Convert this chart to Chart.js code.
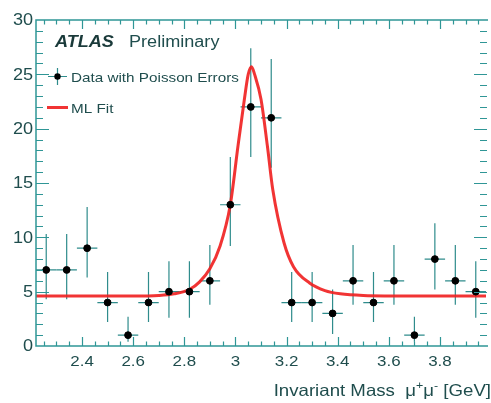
<!DOCTYPE html>
<html>
<head>
<meta charset="utf-8">
<script src="https://cdn.jsdelivr.net/npm/chart.js@4"></script>
<style>
  html, body { margin: 0; padding: 0; background: #ffffff; }
  #massChart { display: block; }
</style>
</head>
<body>
<canvas id="massChart" width="491" height="403"></canvas>
<script>
const mass = [2.26, 2.34, 2.42, 2.5, 2.58, 2.66, 2.74, 2.82, 2.9, 2.98, 3.06,
  3.14, 3.22, 3.3, 3.38, 3.46, 3.54, 3.62, 3.7, 3.78, 3.86, 3.94];
const counts = [7, 7, 9, 4, 1, 4, 5, 5, 6, 13, 22, 21, 4, 4, 3, 6, 4, 6, 1, 8, 6, 5];
const errUpper = [10.3, 10.3, 12.8, 6.8, 2.7, 6.8, 7.8, 7.8, 9.3, 17.4, 27.4,
  26.4, 6.8, 6.8, 5.2, 9.3, 6.8, 9.3, 2.7, 11.3, 9.3, 7.8];
const errLower = [4.3, 4.3, 6.3, 2.2, 0.4, 2.2, 2.6, 2.6, 3.8, 9.2, 17.4,
  16.4, 2.2, 2.2, 1.1, 3.8, 2.2, 3.8, 0.4, 5.2, 3.8, 2.6];
const binHalfWidth = 0.04;

const fitMass = [2.22, 2.4, 2.6, 2.7, 2.76, 2.82, 2.86, 2.9, 2.94, 2.98, 3.01,
  3.035, 3.05, 3.063, 3.075, 3.1, 3.125, 3.146, 3.19, 3.227, 3.29, 3.35, 3.41,
  3.5, 3.7, 3.98];
const fitValue = [4.6, 4.6, 4.6, 4.65, 4.8, 5.2, 5.9, 7.1, 9.2, 13.0, 18.4,
  22.7, 25.0, 25.7, 25.0, 22.7, 18.4, 14.4, 9.5, 7.3, 5.8, 5.1, 4.8,
  4.65, 4.6, 4.6];

const xTicks = [2.4, 2.6, 2.8, 3, 3.2, 3.4, 3.6, 3.8];
const xTickLabels = ["2.4", "2.6", "2.8", "3", "3.2", "3.4", "3.6", "3.8"];
const yTicks = [0, 5, 10, 15, 20, 25, 30];
const yTickLabels = ["0", "5", "10", "15", "20", "25", "30"];

const axisColor = "#2f9696";
const textColor = "#1f4d4d";
const fitColor = "rgba(240, 30, 30, 0.9)";
const stretch = 1.13;

const drawText = (ctx, str, x, y, align) => {
  ctx.save();
  ctx.translate(x, y);
  ctx.scale(stretch, 1);
  ctx.textAlign = align;
  ctx.fillText(str, 0, 0);
  ctx.restore();
};

const errorBars = {
  id: "errorBars",
  beforeDatasetsDraw(chart) {
    const { ctx, scales } = chart;
    const xs = scales.x;
    const ys = scales.y;
    ctx.save();
    ctx.strokeStyle = "#2f8c8c";
    ctx.lineWidth = 1.2;
    mass.forEach((m, i) => {
      const px = xs.getPixelForValue(m);
      const py = ys.getPixelForValue(counts[i]);
      ctx.beginPath();
      ctx.moveTo(px, ys.getPixelForValue(errUpper[i]));
      ctx.lineTo(px, ys.getPixelForValue(errLower[i]));
      ctx.moveTo(xs.getPixelForValue(m - binHalfWidth), py);
      ctx.lineTo(xs.getPixelForValue(m + binHalfWidth), py);
      ctx.stroke();
    });
    ctx.restore();
  },
};

const frame = {
  id: "frame",
  afterDraw(chart) {
    const { ctx, chartArea, scales } = chart;
    const xs = scales.x;
    const ys = scales.y;
    const { left, right, top, bottom } = chartArea;
    ctx.save();

    // frame: the right edge falls off the picture
    ctx.strokeStyle = axisColor;
    ctx.lineWidth = 1.5;
    ctx.beginPath();
    ctx.moveTo(right + 2, top);
    ctx.lineTo(left, top);
    ctx.lineTo(left, bottom);
    ctx.lineTo(right + 2, bottom);
    ctx.stroke();

    ctx.lineWidth = 1.2;
    ctx.beginPath();
    // x ticks, pointing inward on bottom and top
    for (let v = 2.25; v <= 3.98; v += 0.05) {
      const val = Math.round(v * 100) / 100;
      const major = Math.abs(val * 5 - Math.round(val * 5)) < 1e-6;
      const len = major ? 9 : 4.5;
      const px = Math.round(xs.getPixelForValue(val)) + 0.5;
      ctx.moveTo(px, bottom);
      ctx.lineTo(px, bottom - len);
      ctx.moveTo(px, top);
      ctx.lineTo(px, top + len);
    }
    // y ticks
    for (let v = 1; v < 30; v++) {
      const major = v % 5 === 0;
      const len = major ? 13 : 7;
      const py = Math.round(ys.getPixelForValue(v)) + 0.5;
      ctx.moveTo(left, py);
      ctx.lineTo(left + len, py);
      ctx.moveTo(right + 1, py);
      ctx.lineTo(right + 1 - len, py);
    }
    ctx.stroke();

    ctx.fillStyle = textColor;
    ctx.font = "15px 'Liberation Sans', Arial, sans-serif";
    ctx.textBaseline = "alphabetic";
    xTicks.forEach((t, i) => {
      drawText(ctx, xTickLabels[i], xs.getPixelForValue(t), bottom + 20, "center");
    });
    ctx.textBaseline = "middle";
    ctx.font = "16px 'Liberation Sans', Arial, sans-serif";
    yTicks.forEach((t, i) => {
      drawText(ctx, yTickLabels[i], left - 3, ys.getPixelForValue(t) + 1, "right");
    });

    // axis title with superscripts, right aligned
    ctx.textBaseline = "alphabetic";
    const pieces = [
      ["Invariant Mass  \u03bc", 16.5, 0],
      ["+", 11, -7],
      ["\u03bc", 16.5, 0],
      ["-", 11, -7],
      [" [GeV]", 16.5, 0],
    ];
    let total = 0;
    pieces.forEach(([s, size]) => {
      ctx.font = size + "px 'Liberation Sans', Arial, sans-serif";
      total += ctx.measureText(s).width * stretch;
    });
    let tx = 491 - total;
    pieces.forEach(([s, size, dy]) => {
      ctx.font = size + "px 'Liberation Sans', Arial, sans-serif";
      drawText(ctx, s, tx, 396 + dy, "left");
      tx += ctx.measureText(s).width * stretch;
    });

    // ATLAS label
    ctx.font = "italic bold 16px 'Liberation Sans', Arial, sans-serif";
    ctx.fillStyle = "#1a3a3a";
    drawText(ctx, "ATLAS", 55, 47, "left");
    ctx.font = "16px 'Liberation Sans', Arial, sans-serif";
    ctx.fillStyle = textColor;
    drawText(ctx, "Preliminary", 129, 47, "left");

    // legend
    ctx.strokeStyle = "#2f8c8c";
    ctx.lineWidth = 1.2;
    ctx.beginPath();
    ctx.moveTo(48, 76.5);
    ctx.lineTo(67, 76.5);
    ctx.moveTo(57.5, 68);
    ctx.lineTo(57.5, 85);
    ctx.stroke();
    ctx.fillStyle = "#000000";
    ctx.beginPath();
    ctx.arc(57.5, 76.5, 3.2, 0, Math.PI * 2);
    ctx.fill();
    ctx.strokeStyle = fitColor;
    ctx.lineWidth = 3;
    ctx.beginPath();
    ctx.moveTo(47, 107.5);
    ctx.lineTo(68, 107.5);
    ctx.stroke();
    ctx.fillStyle = textColor;
    ctx.font = "13.5px 'Liberation Sans', Arial, sans-serif";
    drawText(ctx, "Data with Poisson Errors", 71, 81.5, "left");
    drawText(ctx, "ML Fit", 71, 112.5, "left");

    ctx.restore();
  },
};

new Chart(document.getElementById("massChart"), {
  type: "scatter",
  data: {
    datasets: [
      {
        label: "Data with Poisson Errors",
        data: mass.map((m, i) => ({ x: m, y: counts[i] })),
        backgroundColor: "#000000",
        borderColor: "#000000",
        pointRadius: 3.4,
        order: 0,
      },
      {
        type: "line",
        label: "ML Fit",
        data: fitMass.map((m, i) => ({ x: m, y: fitValue[i] })),
        borderColor: fitColor,
        borderWidth: 3,
        pointRadius: 0,
        cubicInterpolationMode: "monotone",
        fill: false,
        order: 1,
      },
    ],
  },
  options: {
    responsive: false,
    devicePixelRatio: 1,
    animation: false,
    layout: { padding: { left: 36, top: 20, right: 0, bottom: 57 } },
    scales: {
      x: { type: "linear", min: 2.22, max: 3.98, display: false },
      y: { min: 0, max: 30, display: false },
    },
    plugins: {
      legend: { display: false },
      tooltip: { enabled: false },
    },
  },
  plugins: [errorBars, frame],
});
</script>
</body>
</html>
